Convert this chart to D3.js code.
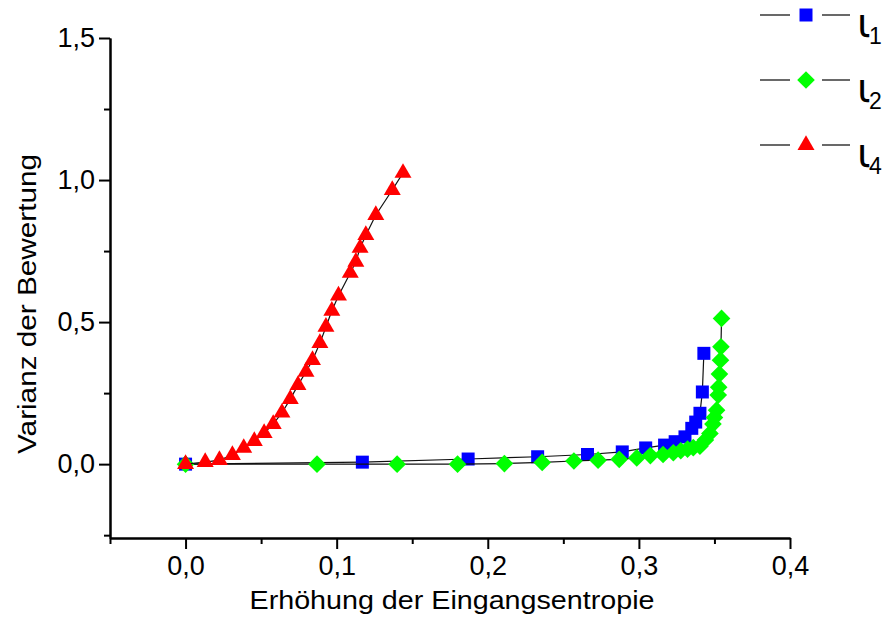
<!DOCTYPE html>
<html lang="de">

<head>
  <meta charset="UTF-8" />
  <title>Varianz der Bewertung</title>
  <script src="https://d3js.org/d3.v7.js"></script>
  <style>
    body { margin: 0; background: #fff; }
    text { font-family: "Liberation Sans", Arial, sans-serif; fill: #000; }
  </style>
</head>

<body>
  <div id="graph-space"></div>
</body>
<script>
  // Data
  const seriesNames = ["1", "2", "4"];

  const iota1X = [0, 0.117, 0.187, 0.233, 0.266, 0.289, 0.3045, 0.317, 0.324, 0.3305, 0.335, 0.3376, 0.3404, 0.342, 0.343];
  const iota1Y = [0, 0.007, 0.018, 0.026, 0.034, 0.043, 0.057, 0.067, 0.079, 0.096, 0.126, 0.148, 0.179, 0.254, 0.39];

  const iota2X = [0, 0.087, 0.140, 0.180, 0.211, 0.236, 0.257, 0.273, 0.287, 0.2986, 0.3076, 0.316, 0.3228, 0.3277,
    0.3322, 0.336, 0.3404, 0.344, 0.347, 0.349, 0.350, 0.3514, 0.3525, 0.3528, 0.3533, 0.354, 0.3543, 0.3547];
  const iota2Y = [0, 0.0, 0.0, 0.0, 0.002, 0.006, 0.011, 0.014, 0.017, 0.022, 0.030, 0.034, 0.040, 0.047,
    0.053, 0.058, 0.063, 0.085, 0.108, 0.141, 0.164, 0.190, 0.243, 0.271, 0.317, 0.366, 0.413, 0.513];

  const iota4X = [0, 0.013, 0.0224, 0.031, 0.0385, 0.0455, 0.052, 0.058, 0.0638, 0.0693, 0.0744, 0.0797, 0.084,
    0.0889, 0.0929, 0.0968, 0.1012, 0.109, 0.1127, 0.1155, 0.1193, 0.1259, 0.1368, 0.1439];
  const iota4Y = [0, 0.007, 0.014, 0.032, 0.057, 0.081, 0.109, 0.141, 0.181, 0.229, 0.278, 0.325, 0.366,
    0.426, 0.483, 0.540, 0.593, 0.673, 0.712, 0.761, 0.806, 0.877, 0.965, 1.025];

  const xTicks = [0, 0.1, 0.2, 0.3, 0.4];
  const xMinorTicks = [-0.05, 0.05, 0.15, 0.25, 0.35];
  const yTicks = [0, 0.5, 1.0, 1.5];
  const yMinorTicks = [-0.25, 0.25, 0.75, 1.25];

  // chart setup
  const width = 889
  const height = 617

  const svg = d3.select("#graph-space")
    .append("svg")
    .attr("width", width)
    .attr("height", height)

  const xScale = d3.scaleLinear()
    .domain([-0.05, 0.4])
    .range([110, 790])

  const yScale = d3.scaleLinear()
    .domain([-0.26, 1.5])
    .range([538, 38])

  const commaFormat = d => d3.format(".1f")(d).replace(".", ",")

  // axes
  svg.append('g')
    .attr('transform', `translate(0,${yScale(-0.26)})`)
    .call(d3.axisBottom(xScale).tickValues(xTicks).tickFormat(commaFormat).tickSize(11).tickSizeOuter(0).tickPadding(7))
  svg.append('g')
    .attr('transform', `translate(0,${yScale(-0.26)})`)
    .call(d3.axisBottom(xScale).tickValues(xMinorTicks).tickFormat("").tickSize(6).tickSizeOuter(0))

  svg.append('g')
    .attr('transform', `translate(${xScale(-0.05)},0)`)
    .call(d3.axisLeft(yScale).tickValues(yTicks).tickFormat(commaFormat).tickSize(11).tickSizeOuter(0).tickPadding(4))
  svg.append('g')
    .attr('transform', `translate(${xScale(-0.05)},0)`)
    .call(d3.axisLeft(yScale).tickValues(yMinorTicks).tickFormat("").tickSize(6).tickSizeOuter(0))

  svg.selectAll('.domain, .tick line')
    .attr('stroke', '#000')
    .attr('stroke-width', 2)
  svg.selectAll('.tick text')
    .style('font-size', '27px')
    .style('font-family', '"Liberation Sans", Arial, sans-serif')

  // axis titles
  svg.append('text')
    .attr('x', 452)
    .attr('y', 609)
    .attr('text-anchor', 'middle')
    .attr('textLength', 405)
    .attr('lengthAdjust', 'spacingAndGlyphs')
    .style('font-size', '25px')
    .text('Erhöhung der Eingangsentropie')

  svg.append('text')
    .attr('transform', 'translate(36,304) rotate(-90)')
    .attr('text-anchor', 'middle')
    .attr('textLength', 300)
    .attr('lengthAdjust', 'spacingAndGlyphs')
    .style('font-size', '25px')
    .text('Varianz der Bewertung')

  // series
  const series = [
    { name: seriesNames[0], xs: iota1X, ys: iota1Y, color: "#0000ff", symbol: d3.symbolSquare, size: 169, rotate: 0 },
    { name: seriesNames[1], xs: iota2X, ys: iota2Y, color: "#00ff00", symbol: d3.symbolSquare, size: 156, rotate: 45 },
    { name: seriesNames[2], xs: iota4X, ys: iota4Y, color: "#ff0000", symbol: d3.symbolTriangle, size: 125, rotate: 0 }
  ]

  const line = d3.line()
    .x(d => xScale(d[0]))
    .y(d => yScale(d[1]))

  series.forEach(s => {
    const pts = s.xs.map((x, i) => [x, s.ys[i]])
    const g = svg.append('g')
    g.append('path')
      .datum(pts)
      .attr('d', line)
      .attr('fill', 'none')
      .attr('stroke', '#111')
      .attr('stroke-width', 1.2)
    g.selectAll('path.mark')
      .data(pts)
      .join('path')
      .attr('class', 'mark')
      .attr('d', d3.symbol().type(s.symbol).size(s.size))
      .attr('transform', d => `translate(${xScale(d[0])},${yScale(d[1])}) rotate(${s.rotate})`)
      .attr('fill', s.color)
  })

  // legend
  const legend = svg.append('g')
  series.forEach((s, i) => {
    const ly = 15 + i * 65
    const row = legend.append('g').attr('transform', `translate(0,${ly})`)
    row.append('line').attr('x1', 760).attr('x2', 790).attr('y1', 0).attr('y2', 0)
      .attr('stroke', '#444').attr('stroke-width', 1.6)
    row.append('line').attr('x1', 822).attr('x2', 850).attr('y1', 0).attr('y2', 0)
      .attr('stroke', '#444').attr('stroke-width', 1.6)
    row.append('path')
      .attr('d', d3.symbol().type(s.symbol).size(s.size))
      .attr('transform', `translate(806,0) rotate(${s.rotate})`)
      .attr('fill', s.color)
    row.append('text')
      .attr('x', 857)
      .attr('y', 22)
      .style('font-family', '"DejaVu Sans", sans-serif')
      .style('font-size', '40px')
      .text('ι')
    row.append('text')
      .attr('x', 869)
      .attr('y', 29)
      .style('font-size', '23px')
      .text(s.name)
  })
</script>

</html>
